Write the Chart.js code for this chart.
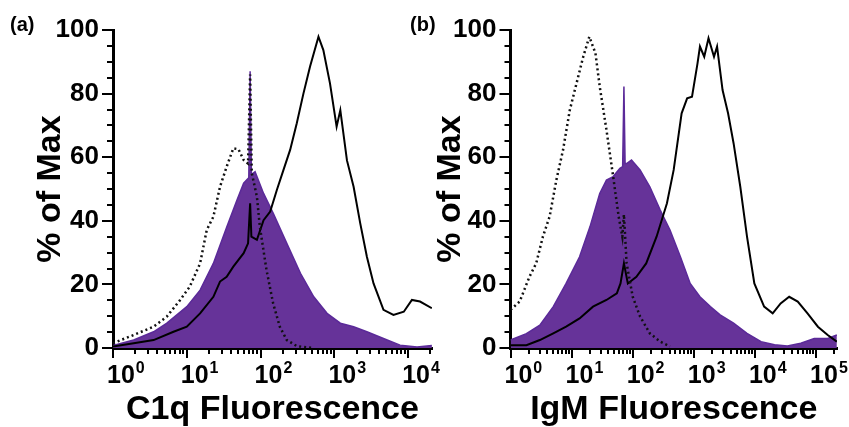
<!DOCTYPE html>
<html>
<head>
<meta charset="utf-8">
<script src="https://cdn.jsdelivr.net/npm/chart.js@4.4.0/dist/chart.umd.min.js"></script>
<style>
  html, body { margin: 0; padding: 0; background: #fff; }
  #wrap { position: relative; width: 849px; height: 427px; overflow: hidden; }
  canvas { position: absolute; top: 0; }
  #chartA { left: 0; }
  #chartB { left: 405px; }
  .tag { position: absolute; top: 13px; font: bold 20px 'Liberation Sans', Arial, sans-serif; color: #000; }
</style>
</head>
<body>
<div id="wrap">
  <canvas id="chartA" width="450" height="427"></canvas>
  <canvas id="chartB" width="444" height="427"></canvas>
  <div class="tag" style="left:10px">(a)</div>
  <div class="tag" style="left:410px">(b)</div>
</div>
<script>
// Values: x as log10(fluorescence), y as % of max

// (a) C1q
const aFillLog = [0.0, 0.28, 0.55, 0.73, 1.0, 1.18, 1.36, 1.54, 1.68, 1.77, 1.81, 1.84, 1.858, 1.875, 1.925, 2.04, 2.17, 2.355, 2.54, 2.72, 2.9, 3.08, 3.26, 3.44, 3.665, 3.89, 4.12, 4.32];
const aFillY   = [0.8, 2.5, 5.1, 7.8, 13, 18.2, 26.6, 38, 46.5, 51.8, 52.8, 53.5, 87, 54.5, 55.4, 48.6, 42.4, 32.9, 23.5, 16.1, 10.9, 7.8, 6.7, 5.1, 3.0, 0.9, 0.3, 0.8];
const aLineLog = [0.0, 0.28, 0.55, 0.82, 1.0, 1.18, 1.36, 1.45, 1.54, 1.63, 1.77, 1.83, 1.858, 1.875, 1.95, 2.04, 2.13, 2.22, 2.31, 2.4, 2.49, 2.58, 2.67, 2.784, 2.85, 2.94, 3.03, 3.08, 3.17, 3.26, 3.35, 3.44, 3.53, 3.665, 3.8, 3.94, 4.05, 4.16, 4.32];
const aLineY   = [0.5, 1.5, 2.5, 5.1, 6.7, 10.9, 16.1, 20.9, 22.4, 25.6, 29.8, 32.9, 45.5, 35, 34, 40.2, 42.9, 49.7, 56, 62.3, 70.7, 80, 88.5, 97.9, 93.7, 83.2, 69.6, 74.8, 59, 50.7, 39.2, 28.7, 20.3, 12, 10.4, 11.4, 15.1, 14.6, 12.5];
const aDotLog  = [0.0, 0.28, 0.55, 0.73, 0.91, 1.04, 1.18, 1.27, 1.36, 1.45, 1.54, 1.63, 1.7, 1.77, 1.83, 1.858, 1.88, 1.95, 1.99, 2.08, 2.17, 2.26, 2.355, 2.49, 2.7];
const aDotY    = [1.5, 4.1, 6.7, 9.9, 15.1, 19.3, 26.6, 37.1, 41.3, 50.7, 57, 62.8, 62.5, 59.1, 58, 86, 55, 47.6, 38.1, 24.5, 14, 6.7, 2.5, 0.6, 0];

// (b) IgM
const bFillLog = [0.0, 0.26, 0.48, 0.7, 0.91, 1.13, 1.3, 1.46, 1.57, 1.68, 1.79, 1.835, 1.856, 1.875, 1.9, 1.98, 2.12, 2.28, 2.45, 2.61, 2.78, 2.94, 3.1, 3.27, 3.43, 3.65, 3.87, 4.1, 4.32, 4.53, 4.75, 4.97, 5.19, 5.34];
const bFillY   = [2.5, 4.5, 7.2, 13, 20.3, 28.7, 38.1, 48.6, 52.8, 53.9, 56.5, 57, 82.2, 58, 58, 59.1, 56, 50.7, 43.4, 37.1, 28.7, 20.3, 16.1, 13, 10.4, 7.8, 4.6, 2, 1, 0.6, 1.5, 3, 3, 4.1];
const bLineLog = [0.0, 0.26, 0.48, 0.7, 0.91, 1.13, 1.35, 1.57, 1.74, 1.8, 1.856, 1.92, 2.06, 2.22, 2.39, 2.56, 2.67, 2.8, 2.89, 2.97, 3.06, 3.1, 3.17, 3.24, 3.33, 3.38, 3.47, 3.56, 3.65, 3.76, 3.87, 3.99, 4.15, 4.29, 4.42, 4.56, 4.7, 4.86, 5.03, 5.19, 5.34];
const bLineY   = [0.9, 0.9, 2.5, 4.6, 6.7, 9.3, 13, 15.1, 17.2, 20.3, 26.6, 20.3, 22.4, 26.6, 35, 45.5, 56, 73.8, 78.5, 79, 89.5, 94.8, 91.6, 97.4, 91.6, 94.8, 81.1, 73.8, 64.4, 50.7, 35, 20.3, 13, 10.9, 14, 16.1, 14.6, 10.9, 6.7, 4.1, 2];
const bDotLog  = [0.0, 0.15, 0.31, 0.42, 0.53, 0.64, 0.75, 0.86, 0.97, 1.08, 1.19, 1.29, 1.39, 1.46, 1.57, 1.68, 1.77, 1.83, 1.856, 1.9, 2.0, 2.12, 2.28, 2.45, 2.61];
const bDotY    = [12, 14.6, 22.4, 26.6, 35, 41.3, 52.8, 62.3, 74.8, 83.2, 91.6, 97.9, 92.7, 82.2, 68.6, 53.9, 41.3, 35, 42, 26.6, 16.1, 9.9, 4.6, 2, 0.5];

const yTicks = [0, 20, 40, 60, 80, 100];

const FONT = "'Liberation Sans', Arial, Helvetica, sans-serif";
Chart.defaults.font.family = FONT;
Chart.defaults.color = '#000';

// turn a pair of read arrays into {x, y} points
function toPoints(logs, ys) {
    return logs.map((l, i) => ({ x: Math.pow(10, l), y: ys[i] }));
}

// outward tick marks (long on decades / every 20 %, short in between)
// and the 10^n decade labels with a raised exponent
const axisTicks = {
    id: 'axisTicks',
    afterDraw(chart) {
        const { ctx, chartArea, scales } = chart;
        const x = scales.x, y = scales.y;
        ctx.save();
        ctx.strokeStyle = '#000';
        ctx.lineWidth = 2;
        ctx.beginPath();
        for (let k = 0; Math.pow(10, k) <= x.max; k++) {
            for (let m = 1; m <= 9; m++) {
                const v = m * Math.pow(10, k);
                if (v < x.min || v > x.max) continue;
                const px = Math.round(x.getPixelForValue(v));
                ctx.moveTo(px, chartArea.bottom);
                ctx.lineTo(px, chartArea.bottom + (m === 1 ? 10 : 6));
            }
        }
        for (let v = 0; v <= 100; v += 5) {
            const py = Math.round(y.getPixelForValue(v));
            ctx.moveTo(chartArea.left, py);
            ctx.lineTo(chartArea.left - (yTicks.includes(v) ? 11 : 6), py);
        }
        ctx.stroke();

        // decade labels
        ctx.fillStyle = '#000';
        ctx.textAlign = 'left';
        ctx.textBaseline = 'alphabetic';
        const base = chartArea.bottom + 35;
        for (let k = 0; Math.pow(10, k) <= x.max; k++) {
            const px = x.getPixelForValue(Math.pow(10, k));
            ctx.font = 'bold 25px ' + FONT;
            ctx.fillText('10', px - 6, base);
            const w = ctx.measureText('10').width;
            ctx.font = 'bold 16px ' + FONT;
            ctx.fillText(String(k), px - 5 + w, base - 10);
        }
        ctx.restore();
    }
};

function makePanel(id, cfg) {
    const ctx = document.getElementById(id).getContext('2d');
    return new Chart(ctx, {
        type: 'line',
        data: {
            datasets: [
                {   // dotted control
                    data: toPoints(cfg.dotLog, cfg.dotY),
                    borderColor: '#111',
                    borderWidth: 2.5,
                    borderDash: [2, 3],
                    pointRadius: 0,
                    fill: false
                },
                {   // solid control
                    data: toPoints(cfg.lineLog, cfg.lineY),
                    borderColor: '#000',
                    borderWidth: 2,
                    pointRadius: 0,
                    fill: false
                },
                {   // sample (filled purple)
                    data: toPoints(cfg.fillLog, cfg.fillY),
                    borderColor: '#5b2a99',
                    borderWidth: 1.5,
                    backgroundColor: '#663399',
                    pointRadius: 0,
                    fill: 'origin'
                }
            ]
        },
        options: {
            responsive: false,
            animation: false,
            devicePixelRatio: 1,
            layout: { padding: { left: 0, top: 30, right: cfg.padRight, bottom: 0 } },
            plugins: { legend: { display: false }, tooltip: { enabled: false } },
            elements: { line: { tension: 0 } },
            scales: {
                x: {
                    type: 'logarithmic',
                    min: 1,
                    max: cfg.xMax,
                    afterFit: s => { s.height = 79; },
                    grid: { display: false, drawTicks: false },
                    border: { display: true, color: '#000', width: 3 },
                    ticks: { display: false },
                    title: {
                        display: true,
                        text: cfg.xTitle,
                        color: '#000',
                        font: { size: 34, weight: 'bold', lineHeight: 1 },
                        padding: { top: 0, bottom: 0 }
                    }
                },
                y: {
                    min: 0,
                    max: 100,
                    afterFit: s => { s.width = cfg.yWidth; },
                    grid: { display: false, drawTicks: false },
                    border: { display: true, color: '#000', width: 3 },
                    ticks: {
                        stepSize: 20,
                        padding: 14,
                        color: '#000',
                        font: { size: 26, weight: 'bold' }
                    },
                    title: {
                        display: true,
                        text: '% of Max',
                        color: '#000',
                        font: { size: 34, weight: 'bold', lineHeight: 1.2 },
                        padding: { top: cfg.yTitlePad, bottom: 0 }
                    }
                }
            }
        },
        plugins: [axisTicks]
    });
}

makePanel('chartA', {
    fillLog: aFillLog, fillY: aFillY,
    lineLog: aLineLog, lineY: aLineY,
    dotLog: aDotLog, dotY: aDotY,
    xMax: 2.1e4, xTitle: 'C1q Fluorescence',
    yWidth: 113, yTitlePad: 30, padRight: 18
});

makePanel('chartB', {
    fillLog: bFillLog, fillY: bFillY,
    lineLog: bLineLog, lineY: bLineY,
    dotLog: bDotLog, dotY: bDotY,
    xMax: 2.2e5, xTitle: 'IgM Fluorescence',
    yWidth: 105.5, yTitlePad: 25, padRight: 12
});
</script>
</body>
</html>
